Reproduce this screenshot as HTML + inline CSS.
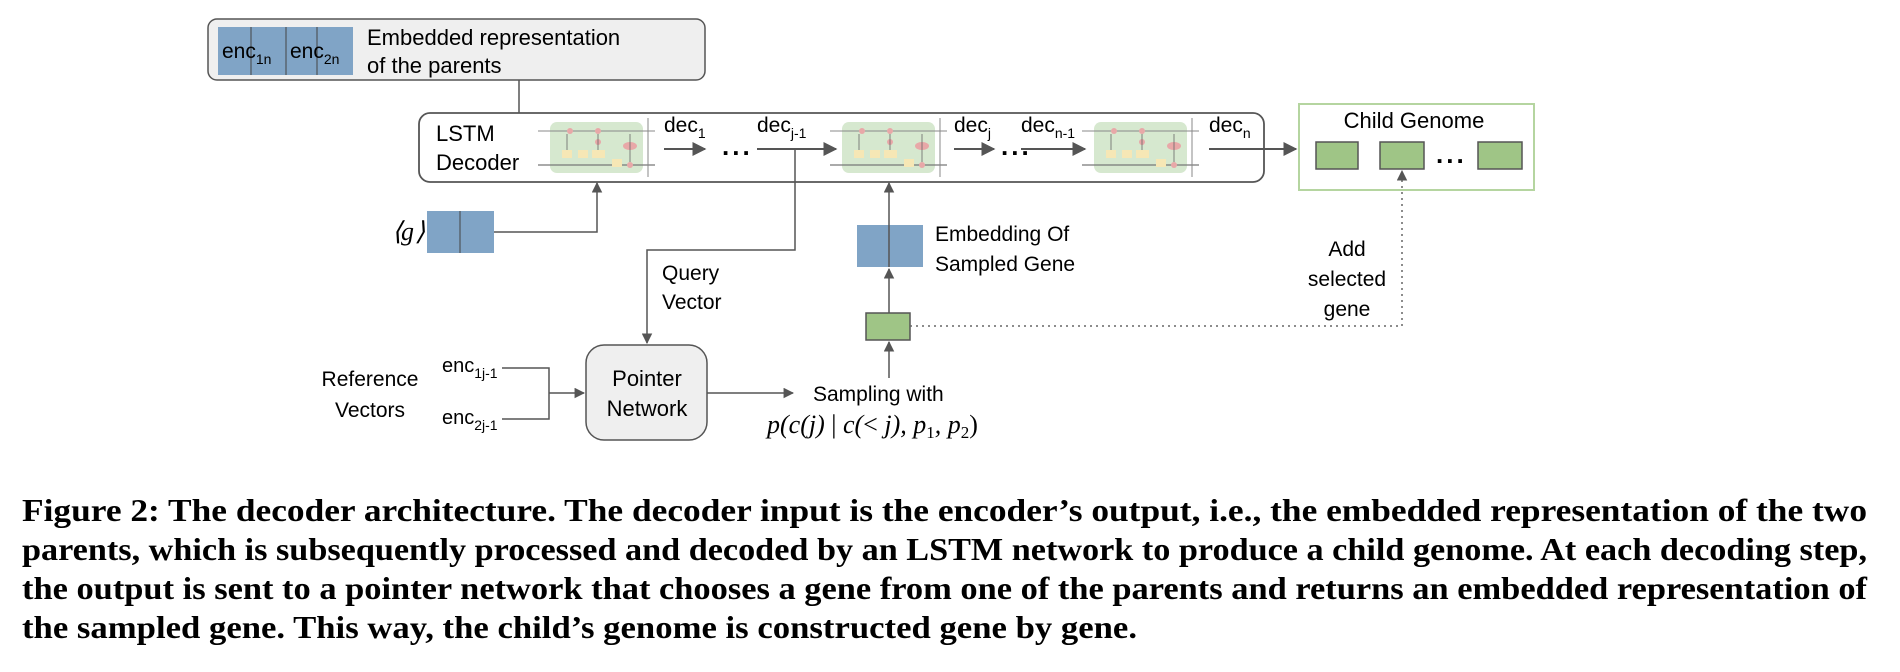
<!DOCTYPE html>
<html><head><meta charset="utf-8"><style>
html,body{margin:0;padding:0;background:#fff;}
svg{display:block;}
.s{font-family:"Liberation Sans",Arial,sans-serif;fill:#000;}
.c{font-family:"Liberation Serif",serif;font-weight:bold;fill:#000;font-size:32px;}
.m{font-family:"Liberation Serif",serif;font-style:italic;fill:#000;font-size:26px;}
</style></head><body>
<svg width="1900" height="672" viewBox="0 0 1900 672" xmlns="http://www.w3.org/2000/svg">
<defs>
<marker id="a" viewBox="0 0 10 10" refX="9" refY="5" markerWidth="7" markerHeight="7" orient="auto-start-reverse"><path d="M0,0 L10,5 L0,10 z" fill="#555"/></marker>
<g id="cell">
<rect x="0" y="0" width="93" height="51" rx="7" fill="#d6e8cf"/>
<line x1="-12" y1="9" x2="105" y2="9" stroke="#888" stroke-width="1"/>
<line x1="-12" y1="43" x2="105" y2="43" stroke="#777" stroke-width="1.2"/>
<line x1="98" y1="-4" x2="98" y2="55" stroke="#888" stroke-width="1"/>
<rect x="12" y="28" width="10" height="8" fill="#f6e7b5"/>
<rect x="28" y="28" width="10" height="8" fill="#f6e7b5"/>
<rect x="42" y="28" width="13" height="8" fill="#f6e7b5"/>
<rect x="62" y="37" width="10" height="8" fill="#f6e7b5"/>
<circle cx="20" cy="9" r="3" fill="#e8a8a8"/>
<circle cx="48" cy="9" r="3" fill="#e8a8a8"/>
<circle cx="48" cy="20" r="3" fill="#e8a8a8"/>
<circle cx="80" cy="43" r="3" fill="#e8a8a8"/>
<ellipse cx="80" cy="24" rx="7" ry="4" fill="#e8a8a8"/>
<line x1="17" y1="28" x2="17" y2="12" stroke="#666" stroke-width="0.8"/>
<line x1="48" y1="28" x2="48" y2="12" stroke="#666" stroke-width="0.8"/>
<line x1="80" y1="12" x2="80" y2="40" stroke="#666" stroke-width="0.8"/>
</g>
</defs>

<!-- top box -->
<rect x="208" y="19" width="497" height="61" rx="9" fill="#efefef" stroke="#555" stroke-width="1.5"/>
<rect x="218" y="27" width="135" height="48" fill="#80a4c6"/>
<line x1="251" y1="27" x2="251" y2="75" stroke="#444" stroke-width="1"/>
<line x1="286" y1="27" x2="286" y2="75" stroke="#444" stroke-width="1"/>
<line x1="317" y1="27" x2="317" y2="75" stroke="#444" stroke-width="1"/>
<text class="s" x="222" y="58" font-size="21">enc<tspan font-size="14" dy="6">1n</tspan></text>
<text class="s" x="290" y="58" font-size="21">enc<tspan font-size="14" dy="6">2n</tspan></text>
<text class="s" x="367" y="45" font-size="22">Embedded representation</text>
<text class="s" x="367" y="73" font-size="22">of the parents</text>
<polyline points="519,80 519,146 532,146" fill="none" stroke="#555" stroke-width="1.5" marker-end="url(#a)"/>

<!-- LSTM box -->
<rect x="419" y="113" width="845" height="69" rx="11" fill="#fff" stroke="#555" stroke-width="1.8"/>
<text class="s" x="436" y="141" font-size="22">LSTM</text>
<text class="s" x="436" y="170" font-size="22">Decoder</text>
<use href="#cell" x="550" y="122"/>
<use href="#cell" x="842" y="122"/>
<use href="#cell" x="1094" y="122"/>
<text class="s" x="664" y="132" font-size="21">dec<tspan font-size="14" dy="6">1</tspan></text>
<line x1="664" y1="149" x2="705" y2="149" stroke="#555" stroke-width="2" marker-end="url(#a)"/>
<text class="s" x="722" y="155" font-size="26" font-weight="bold" fill="#555" letter-spacing="3">...</text>
<text class="s" x="757" y="132" font-size="21">dec<tspan font-size="14" dy="6">j-1</tspan></text>
<line x1="757" y1="149" x2="836" y2="149" stroke="#555" stroke-width="2" marker-end="url(#a)"/>
<text class="s" x="954" y="132" font-size="21">dec<tspan font-size="14" dy="6">j</tspan></text>
<line x1="954" y1="149" x2="994" y2="149" stroke="#555" stroke-width="2" marker-end="url(#a)"/>
<text class="s" x="1001" y="155" font-size="26" font-weight="bold" fill="#555" letter-spacing="3">...</text>
<text class="s" x="1021" y="132" font-size="21">dec<tspan font-size="14" dy="6">n-1</tspan></text>
<line x1="1021" y1="149" x2="1085" y2="149" stroke="#555" stroke-width="2" marker-end="url(#a)"/>
<text class="s" x="1209" y="132" font-size="21">dec<tspan font-size="14" dy="6">n</tspan></text>
<line x1="1209" y1="149" x2="1296" y2="149" stroke="#555" stroke-width="2" marker-end="url(#a)"/>

<!-- child genome -->
<rect x="1299" y="104" width="235" height="86" fill="#fff" stroke="#b5d5a0" stroke-width="2"/>
<text class="s" x="1414" y="128" font-size="22" text-anchor="middle">Child Genome</text>
<rect x="1316" y="142" width="42" height="27" fill="#9fc586" stroke="#555" stroke-width="1.5"/>
<rect x="1380" y="142" width="44" height="27" fill="#9fc586" stroke="#555" stroke-width="1.5"/>
<text class="s" x="1436" y="163" font-size="26" font-weight="bold" fill="#555" letter-spacing="3">...</text>
<rect x="1478" y="142" width="44" height="27" fill="#9fc586" stroke="#555" stroke-width="1.5"/>

<!-- g input -->
<text class="m" x="392" y="240" font-style="normal">⟨</text>
<text class="m" x="401" y="240">g</text>
<text class="m" x="415" y="240" font-style="normal">⟩</text>
<rect x="427" y="211" width="67" height="42" fill="#80a4c6"/>
<line x1="460" y1="211" x2="460" y2="253" stroke="#444" stroke-width="1"/>
<polyline points="494,232 597,232 597,183" fill="none" stroke="#555" stroke-width="1.5" marker-end="url(#a)"/>

<!-- query vector -->
<polyline points="795,150 795,250 647,250 647,343" fill="none" stroke="#555" stroke-width="1.5" marker-end="url(#a)"/>
<text class="s" x="662" y="280" font-size="21">Query</text>
<text class="s" x="662" y="309" font-size="21">Vector</text>

<!-- embedding -->
<rect x="857" y="225" width="66" height="42" fill="#80a4c6"/>
<line x1="889" y1="267" x2="889" y2="183" stroke="#555" stroke-width="1.5" marker-end="url(#a)"/>
<text class="s" x="935" y="241" font-size="21">Embedding Of</text>
<text class="s" x="935" y="271" font-size="21">Sampled Gene</text>
<rect x="866" y="313" width="44" height="27" fill="#9fc586" stroke="#555" stroke-width="1.5"/>
<line x1="889" y1="313" x2="889" y2="269" stroke="#555" stroke-width="1.5" marker-end="url(#a)"/>
<line x1="889" y1="378" x2="889" y2="342" stroke="#555" stroke-width="1.5" marker-end="url(#a)"/>
<polyline points="910,326 1402,326 1402,171" fill="none" stroke="#666" stroke-width="1.5" stroke-dasharray="2,4" marker-end="url(#a)"/>
<text class="s" x="1347" y="256" font-size="21" text-anchor="middle">Add</text>
<text class="s" x="1347" y="286" font-size="21" text-anchor="middle">selected</text>
<text class="s" x="1347" y="316" font-size="21" text-anchor="middle">gene</text>

<!-- pointer network -->
<rect x="586" y="345" width="121" height="95" rx="18" fill="#efefef" stroke="#555" stroke-width="1.5"/>
<text class="s" x="647" y="386" font-size="22" text-anchor="middle">Pointer</text>
<text class="s" x="647" y="416" font-size="22" text-anchor="middle">Network</text>
<line x1="707" y1="393" x2="793" y2="393" stroke="#555" stroke-width="1.5" marker-end="url(#a)"/>
<text class="s" x="813" y="401" font-size="21">Sampling with</text>
<text class="m" x="767" y="433">p(c(j) <tspan font-style="normal">|</tspan> c(<tspan font-style="normal">&lt;</tspan> j), p<tspan font-size="17" dy="5" font-style="normal">1</tspan><tspan dy="-5">, p</tspan><tspan font-size="17" dy="5" font-style="normal">2</tspan><tspan dy="-5" font-style="normal">)</tspan></text>

<text class="s" x="370" y="386" font-size="21" text-anchor="middle">Reference</text>
<text class="s" x="370" y="417" font-size="21" text-anchor="middle">Vectors</text>
<text class="s" x="442" y="372" font-size="20">enc<tspan font-size="14" dy="6">1j-1</tspan></text>
<text class="s" x="442" y="424" font-size="20">enc<tspan font-size="14" dy="6">2j-1</tspan></text>
<polyline points="502,368 549,368 549,419 502,419" fill="none" stroke="#555" stroke-width="1.5"/>
<line x1="549" y1="393" x2="584" y2="393" stroke="#555" stroke-width="1.5" marker-end="url(#a)"/>

<!-- caption -->
<text class="c" x="22" y="521" textLength="1845" lengthAdjust="spacingAndGlyphs">Figure 2: The decoder architecture. The decoder input is the encoder’s output, i.e., the embedded representation of the two</text>
<text class="c" x="22" y="560" textLength="1845" lengthAdjust="spacingAndGlyphs">parents, which is subsequently processed and decoded by an LSTM network to produce a child genome. At each decoding step,</text>
<text class="c" x="22" y="599" textLength="1845" lengthAdjust="spacingAndGlyphs">the output is sent to a pointer network that chooses a gene from one of the parents and returns an embedded representation of</text>
<text class="c" x="22" y="638" textLength="1115" lengthAdjust="spacingAndGlyphs">the sampled gene. This way, the child’s genome is constructed gene by gene.</text>
</svg>
</body></html>
